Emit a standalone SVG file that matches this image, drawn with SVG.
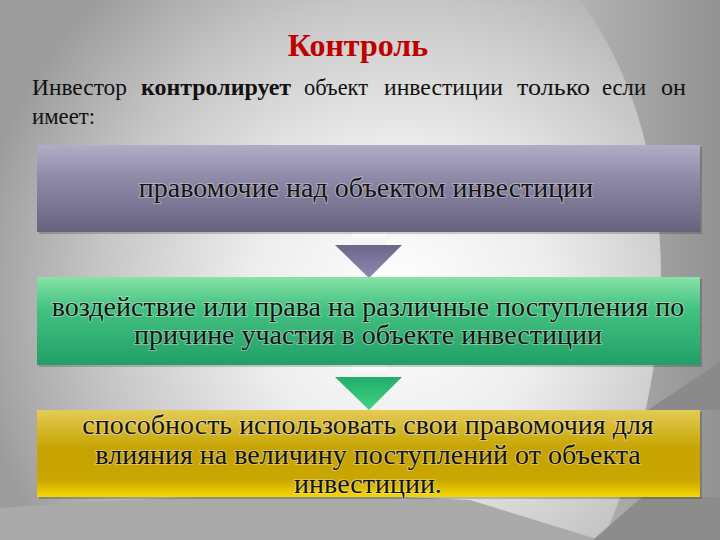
<svg xmlns="http://www.w3.org/2000/svg" width="720" height="540" viewBox="0 0 720 540">
  <defs>
    <radialGradient id="bg" gradientUnits="userSpaceOnUse" cx="400" cy="300" r="430">
      <stop offset="0" stop-color="#ffffff"/>
      <stop offset="0.35" stop-color="#ededed"/>
      <stop offset="0.7" stop-color="#c6c6c6"/>
      <stop offset="1" stop-color="#9c9c9c"/>
    </radialGradient>
    <linearGradient id="side" x1="0" y1="0" x2="1" y2="0">
      <stop offset="0" stop-color="#b2b2b2"/>
      <stop offset="1" stop-color="#929292"/>
    </linearGradient>
    <linearGradient id="gPurple" x1="0" y1="0" x2="0" y2="1">
      <stop offset="0" stop-color="#b2adc6"/>
      <stop offset="0.4" stop-color="#8c88a6"/>
      <stop offset="1" stop-color="#67637f"/>
    </linearGradient>
    <linearGradient id="gGreen" x1="0" y1="0" x2="0" y2="1">
      <stop offset="0" stop-color="#88e2a8"/>
      <stop offset="0.35" stop-color="#44c282"/>
      <stop offset="1" stop-color="#229f66"/>
    </linearGradient>
    <linearGradient id="gYellow" x1="0" y1="0" x2="0" y2="1">
      <stop offset="0" stop-color="#e4cb55"/>
      <stop offset="0.45" stop-color="#c6a300"/>
      <stop offset="0.8" stop-color="#c9a600"/>
      <stop offset="1" stop-color="#f8d600"/>
    </linearGradient>
    <linearGradient id="hPurple" x1="0" y1="0" x2="0" y2="1">
      <stop offset="0" stop-color="#6b6788"/>
      <stop offset="1" stop-color="#8f89b4"/>
    </linearGradient>
    <linearGradient id="hGreen" x1="0" y1="0" x2="0" y2="1">
      <stop offset="0" stop-color="#22ad6a"/>
      <stop offset="1" stop-color="#3fd383"/>
    </linearGradient>
    <linearGradient id="stem" x1="0" y1="0" x2="0" y2="1">
      <stop offset="0" stop-color="#ffffff"/>
      <stop offset="1" stop-color="#f0f0f0"/>
    </linearGradient>
  </defs>
  <style>
    text { font-family: "Liberation Serif", Tinos, "Times New Roman", Times, "DejaVu Serif", serif; }
    .title { font-size: 32px; font-weight: bold; fill: #c00000; }
    .intro { font-size: 24px; fill: #111111; }
    .bold { font-weight: bold; }
    .boxtext { font-size: 28px; fill: #141414; text-anchor: middle; paint-order: stroke; stroke: rgba(255,255,255,0.35); stroke-width: 2px; }
    .shadow { fill: #000000; opacity: 0.18; }
  </style>

  <!-- background -->
  <rect x="0" y="0" width="720" height="540" fill="url(#bg)"/>
  <path d="M 580 0 C 670 120 695 330 603 540 L 720 540 L 720 0 Z" fill="url(#side)"/>
  <path d="M 720 362 L 648 410 L 720 410 Z" fill="#8a8a8a"/>
  <path d="M 0 508 Q 250 488 470 500 L 600 540 L 0 540 Z" fill="#aaaaaa"/>
  <path d="M 593 540 L 642 497 L 720 497 L 720 540 Z" fill="#8c8c8c"/>

  <g id="title">
    <text class="title" x="358" y="56" text-anchor="middle">Контроль</text>
  </g>

  <g id="intro" class="intro">
    <text x="32" y="95" textLength="95" lengthAdjust="spacingAndGlyphs">Инвестор</text>
    <text x="141" y="95" class="bold" textLength="150" lengthAdjust="spacingAndGlyphs">контролирует</text>
    <text x="304" y="95" textLength="64" lengthAdjust="spacingAndGlyphs">объект</text>
    <text x="384" y="95" textLength="119" lengthAdjust="spacingAndGlyphs">инвестиции</text>
    <text x="517" y="95" textLength="73" lengthAdjust="spacingAndGlyphs">только</text>
    <text x="602" y="95" textLength="44" lengthAdjust="spacingAndGlyphs">если</text>
    <text x="661" y="95" textLength="25" lengthAdjust="spacingAndGlyphs">он</text>
    <text x="32" y="124" textLength="63" lengthAdjust="spacingAndGlyphs">имеет:</text>
  </g>

  <g id="connectors">
    <g id="arrow1">
      <rect x="352" y="232" width="34" height="13" fill="url(#stem)"/>
      <path d="M 335 245 L 402 245 L 369 278 Z" fill="url(#hPurple)"/>
    </g>
    <g id="arrow2">
      <rect x="352" y="365" width="34" height="12" fill="url(#stem)"/>
      <path d="M 335 377 L 402 377 L 369 410 Z" fill="url(#hGreen)"/>
    </g>
  </g>

  <g id="box1">
    <rect class="shadow" x="39" y="147" width="663" height="87"/>
    <rect x="37" y="145" width="663" height="87" fill="url(#gPurple)"/>
    <text class="boxtext" x="366" y="197">правомочие над объектом инвестиции</text>
  </g>

  <g id="box2">
    <rect class="shadow" x="39" y="279" width="663" height="88"/>
    <rect x="37" y="277" width="663" height="88" fill="url(#gGreen)"/>
    <text class="boxtext" x="368" y="316">воздействие или права на различные поступления по</text>
    <text class="boxtext" x="368" y="344">причине участия в объекте инвестиции</text>
  </g>

  <g id="box3">
    <rect class="shadow" x="39" y="412" width="663" height="87"/>
    <rect x="37" y="410" width="663" height="87" fill="url(#gYellow)"/>
    <text class="boxtext" x="368" y="434">способность использовать свои правомочия для</text>
    <text class="boxtext" x="368" y="464">влияния на величину поступлений от объекта</text>
    <text class="boxtext" x="368" y="493">инвестиции.</text>
  </g>
</svg>
